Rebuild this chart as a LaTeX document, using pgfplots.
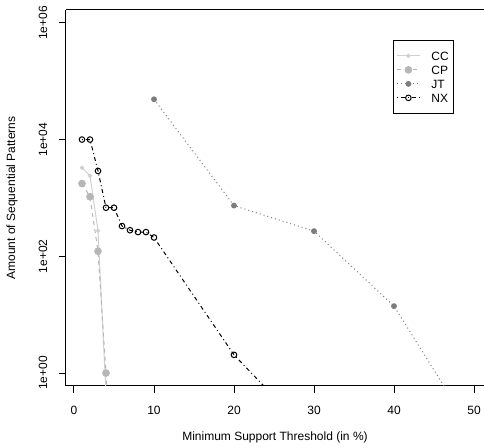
\documentclass[border=0pt]{standalone}
\usepackage{fontspec}
\setmainfont{Liberation Sans}
\usepackage{pgfplots}
\pgfplotsset{compat=1.18}
\definecolor{ccgray}{RGB}{208,208,208}
\definecolor{cpgray}{RGB}{182,182,182}
\definecolor{jtgray}{RGB}{125,125,125}
\begin{document}
\fontsize{12}{14}\selectfont
\begin{tikzpicture}
\begin{axis}[
  name=ax,
  scale only axis,
  width=418pt, height=376pt,
  xmin=-1, xmax=51.25,
  ymode=log, ymin=0.6, ymax=1.66e6,
  axis x line*=box, axis y line*=left,
  xtick pos=left, ytick pos=left,
  tick align=outside,
  major tick length=7pt,
  tick style={black, line width=1pt},
  axis line style={black, line width=1pt},
  xtick={0,10,20,30,40,50},
  ytick={1,100,10000,1000000},
  yticklabels={1e+00,1e+02,1e+04,1e+06},
  yminorticks=false,
  /pgf/number format/assume math mode=true,
  xticklabel style={anchor=center, yshift=-17pt},
  yticklabel style={anchor=center, xshift=-16pt, rotate=90},
  xlabel={Minimum Support Threshold (in \%)},
  ylabel={Amount of Sequential Patterns},
  every axis x label/.style={at={(axis description cs:0.5,0)}, anchor=center, yshift=-51pt},
  every axis y label/.style={at={(axis description cs:0,0.5)}, anchor=center, xshift=-54pt, rotate=90},
  legend style={at={(axis description cs:0.782,0.92)}, anchor=north west,
    draw=black, line width=1pt, inner xsep=3pt, inner ysep=11pt,
    row sep=5.4pt,
    nodes={inner sep=0pt, text height=8.6pt, text depth=0pt, text width=19pt},
    /tikz/every odd column/.style={column sep=11pt}},
  legend cell align=left,
  legend image code/.code={\draw[mark repeat=2,mark phase=2,#1] plot coordinates {(0pt,0pt)(11.5pt,0pt)(23pt,0pt)};},
]
\addplot[ccgray, line width=1pt, mark=*, mark size=1.7pt] coordinates {
  (1,3300) (2,2400) (3,275) (4,0.45)
};
\addplot[cpgray, line width=1pt, dash pattern=on 4pt off 4pt, mark=*, mark size=3.3pt, mark options={solid}] coordinates {
  (1,1760) (2,1050) (3,122) (4,1) (5,0.01)
};
\addplot[jtgray, line width=1pt, dash pattern=on 1pt off 3pt, mark=*, mark size=2.4pt, mark options={solid}] coordinates {
  (10,49000) (20,740) (30,270) (40,14) (50,0.09)
};
\addplot[black, line width=1pt, dash pattern=on 1pt off 3pt on 4pt off 3pt, mark=o, mark size=2.8pt, mark options={solid, fill=white}] coordinates {
  (1,10000) (2,10000) (3,2900) (4,680) (5,680) (6,330) (7,280) (8,260) (9,260) (10,210) (20,2.05) (30,0.076)
};
\legend{CC,CP,JT,NX}
\end{axis}
\pgfresetboundingbox
\path[use as bounding box] ([shift={(-66pt,-62pt)}]ax.south west) rectangle ([shift={(0pt,10pt)}]ax.north east);
\end{tikzpicture}
\end{document}
